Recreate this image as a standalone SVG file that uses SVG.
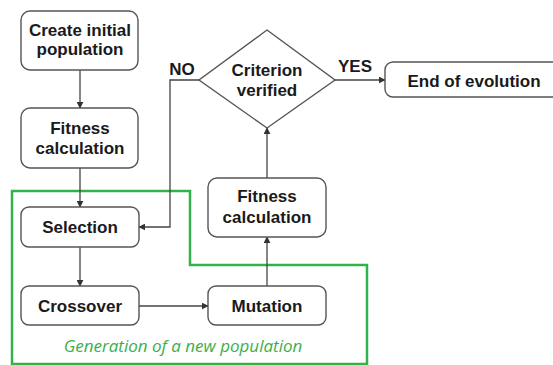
<svg xmlns="http://www.w3.org/2000/svg" width="553" height="365" viewBox="0 0 553 365">
  <defs>
    <marker id="arrow" viewBox="0 0 10 10" refX="9" refY="5" markerWidth="7" markerHeight="7" orient="auto" markerUnits="userSpaceOnUse">
      <path d="M0,0 L10,5 L0,10 z" fill="#333"/>
    </marker>
    <style>
      .box { fill: #ffffff; stroke: #555555; stroke-width: 1.4; }
      .lbl { font-family: "Liberation Sans", Arial, sans-serif; font-weight: bold; font-size: 17px; fill: #1a1a1a; text-anchor: middle; }
      .edge { fill: none; stroke: #444444; stroke-width: 1.3; marker-end: url(#arrow); }
      .group { fill: none; stroke: #34b24a; stroke-width: 2.5; }
      .glbl { font-family: "Open Sans", "Liberation Sans", sans-serif; font-style: italic; font-size: 17px; fill: #3cae48; text-anchor: middle; }
    </style>
  </defs>
  <rect width="553" height="365" fill="#ffffff"/>

  <!-- outline of the generation loop -->
  <g id="generation-group">
    <path class="group" d="M12,364 L12,191 L190,191 L190,265 L367,265 L367,364 Z"/>
    <text class="glbl" x="183" y="352">Generation of a new population</text>
  </g>

  <g id="connectors">
    <path class="edge" d="M80,70 L80,108"/>
    <path class="edge" d="M80,168 L80,207"/>
    <path class="edge" d="M80,247 L80,286"/>
    <path class="edge" d="M139,306 L208,306"/>
    <path class="edge" d="M267,286 L267,237"/>
    <path class="edge" d="M267,178 L267,128"/>
    <path class="edge" d="M199,80 L170,80 L170,227 L139,227"/>
    <path class="edge" d="M335,80 L385,80"/>
    <text class="lbl" x="182" y="75">NO</text>
    <text class="lbl" x="355" y="72">YES</text>
  </g>

  <g id="create-population">
    <rect class="box" x="21" y="11" width="117" height="59" rx="9"/>
    <text class="lbl" x="80" y="36">Create initial</text>
    <text class="lbl" x="80" y="55">population</text>
  </g>

  <g id="fitness-initial">
    <rect class="box" x="21" y="108" width="117" height="60" rx="9"/>
    <text class="lbl" x="80" y="134">Fitness</text>
    <text class="lbl" x="80" y="154">calculation</text>
  </g>

  <g id="selection">
    <rect class="box" x="21" y="207" width="118" height="40" rx="8"/>
    <text class="lbl" x="80" y="233">Selection</text>
  </g>

  <g id="crossover">
    <rect class="box" x="21" y="286" width="118" height="39" rx="8"/>
    <text class="lbl" x="80" y="312">Crossover</text>
  </g>

  <g id="mutation">
    <rect class="box" x="208" y="286" width="118" height="39" rx="8"/>
    <text class="lbl" x="267" y="312">Mutation</text>
  </g>

  <g id="fitness-offspring">
    <rect class="box" x="208" y="178" width="118" height="59" rx="9"/>
    <text class="lbl" x="267" y="202">Fitness</text>
    <text class="lbl" x="267" y="223">calculation</text>
  </g>

  <g id="criterion">
    <polygon class="box" points="267,30 335,80 267,128 199,80"/>
    <text class="lbl" x="267" y="76">Criterion</text>
    <text class="lbl" x="267" y="96">verified</text>
  </g>

  <g id="end-evolution">
    <rect class="box" x="385" y="62" width="190" height="35" rx="8"/>
    <text class="lbl" x="474" y="87">End of evolution</text>
  </g>
</svg>
